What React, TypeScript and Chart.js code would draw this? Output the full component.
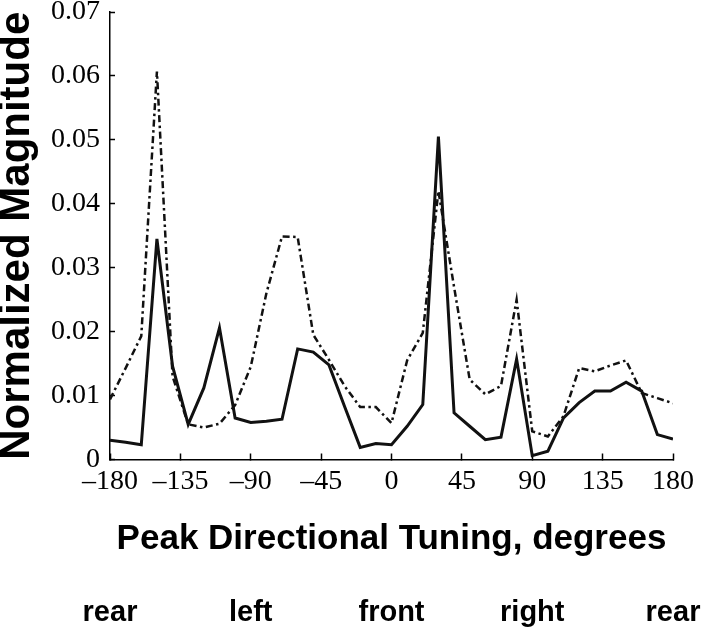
import { useEffect, useRef } from 'react';
import { Chart, registerables } from 'chart.js';

Chart.register(...registerables);

// Peak directional tuning (degrees), sampled every 10 degrees
const degrees = [
  -180, -170, -160, -150, -140, -130, -120, -110, -100, -90,
  -80, -70, -60, -50, -40, -30, -20, -10, 0, 10,
  20, 30, 40, 50, 60, 70, 80, 90, 100, 110,
  120, 130, 140, 150, 160, 170, 180,
];

// Solid curve
const solidValues = [
  0.0030, 0.0027, 0.0023, 0.0345, 0.0146, 0.0055, 0.0112, 0.0206, 0.0065, 0.0058,
  0.0060, 0.0063, 0.0173, 0.0168, 0.0148, 0.0083, 0.0019, 0.0025, 0.0023, 0.0052,
  0.0086, 0.0505, 0.0073, 0.0052, 0.0031, 0.0035, 0.0157, 0.0006, 0.0013, 0.0065,
  0.0089, 0.0107, 0.0107, 0.0121, 0.0107, 0.0039, 0.0032,
];

// Dash-dot curve
const dashDotValues = [
  0.0094, 0.0143, 0.0193, 0.0607, 0.0130, 0.0055, 0.0050, 0.0056, 0.0085, 0.0145,
  0.0260, 0.0349, 0.0348, 0.0195, 0.0156, 0.0115, 0.0082, 0.0082, 0.0057, 0.0155,
  0.0198, 0.0420, 0.0270, 0.0125, 0.0102, 0.0115, 0.0250, 0.0044, 0.0036, 0.0068,
  0.0143, 0.0138, 0.0147, 0.0155, 0.0104, 0.0096, 0.0088,
];

const xTickValues = [-180, -135, -90, -45, 0, 45, 90, 135, 180];
const xTickLabels = ['\u2013180', '\u2013135', '\u201390', '\u201345', '0', '45', '90', '135', '180'];
const yTickValues = [0, 0.01, 0.02, 0.03, 0.04, 0.05, 0.06, 0.07];
const yTickLabels = ['0', '0.01', '0.02', '0.03', '0.04', '0.05', '0.06', '0.07'];
const directionValues = [-180, -90, 0, 90, 180];
const directionLabels = ['rear', 'left', 'front', 'right', 'rear'];

const xTitle = 'Peak Directional Tuning, degrees';
const yTitle = 'Normalized Magnitude';

const SERIF = '"Liberation Serif", "Times New Roman", serif';
const SANS = '"Liberation Sans", Arial, sans-serif';

export default function App() {
  const canvasRef = useRef<HTMLCanvasElement | null>(null);

  useEffect(() => {
    document.body.style.margin = '0';
    const canvas = canvasRef.current;
    if (!canvas) return;

    const chart = new Chart(canvas, {
      type: 'line',
      data: {
        datasets: [
          {
            label: 'solid',
            data: degrees.map((d, i) => ({ x: d, y: solidValues[i] })),
            borderColor: '#111',
            borderWidth: 3,
            pointRadius: 0,
            tension: 0,
            fill: false,
            xAxisID: 'x',
          },
          {
            label: 'dash-dot',
            data: degrees.map((d, i) => ({ x: d, y: dashDotValues[i] })),
            borderColor: '#111',
            borderWidth: 2.5,
            borderDash: [7, 3.5, 2.5, 3.5],
            pointRadius: 0,
            tension: 0,
            fill: false,
            xAxisID: 'x',
          },
        ],
      },
      options: {
        animation: false,
        responsive: false,
        devicePixelRatio: 1,
        layout: { padding: { top: 12, right: 47, bottom: 0, left: 0 } },
        plugins: {
          legend: { display: false },
          tooltip: { enabled: false },
        },
        scales: {
          x: {
            type: 'linear',
            position: 'bottom',
            weight: 0,
            min: -180,
            max: 180,
            afterBuildTicks: (s: any) => {
              s.ticks = xTickValues.map((v) => ({ value: v }));
            },
            afterFit: (s: any) => {
              s.height = 110;
              s.paddingLeft = 0;
              s.paddingRight = 0;
            },
            ticks: {
              autoSkip: false,
              maxRotation: 0,
              padding: 11,
              color: '#000',
              font: { family: SERIF, size: 28 },
              callback: (_v: any, i: number) => xTickLabels[i],
            },
            grid: {
              drawOnChartArea: false,
              drawTicks: true,
              tickLength: -6,
              tickWidth: 1.5,
              color: '#000',
            },
            border: { display: true, color: '#000', width: 1.5 },
            title: {
              display: true,
              text: xTitle,
              color: '#000',
              font: { family: SANS, size: 35, weight: 'bold' },
              padding: { top: 0, bottom: 9.5 },
            },
          },
          x2: {
            type: 'linear',
            position: 'bottom',
            weight: 1,
            min: -180,
            max: 180,
            afterBuildTicks: (s: any) => {
              s.ticks = directionValues.map((v) => ({ value: v }));
            },
            afterFit: (s: any) => {
              s.height = 60.5;
              s.paddingLeft = 0;
              s.paddingRight = 0;
            },
            ticks: {
              autoSkip: false,
              maxRotation: 0,
              padding: 25.7,
              color: '#000',
              font: { family: SANS, size: 29, weight: 'bold' },
              callback: (_v: any, i: number) => directionLabels[i],
            },
            grid: { display: false, drawTicks: false, drawOnChartArea: false },
            border: { display: false },
          },
          y: {
            type: 'linear',
            position: 'left',
            min: 0,
            max: 0.07,
            afterBuildTicks: (s: any) => {
              s.ticks = yTickValues.map((v) => ({ value: v }));
            },
            afterFit: (s: any) => {
              s.width = 110;
              s.paddingTop = 0;
              s.paddingBottom = 0;
            },
            ticks: {
              autoSkip: false,
              padding: 15,
              color: '#000',
              font: { family: SERIF, size: 28 },
              callback: (_v: any, i: number) => yTickLabels[i],
            },
            grid: {
              drawOnChartArea: false,
              drawTicks: true,
              tickLength: -5,
              tickWidth: 1.5,
              color: '#000',
            },
            border: { display: true, color: '#000', width: 1.5 },
            title: {
              display: true,
              text: yTitle,
              color: '#000',
              font: { family: SANS, size: 42, weight: 'bold', lineHeight: 0.8 },
              padding: { top: 0.7, bottom: 0 },
            },
          },
        },
      },
    });

    return () => chart.destroy();
  }, []);

  return (
    <div style={{ width: 720, height: 630, background: '#fff' }}>
      <canvas ref={canvasRef} width={720} height={630} style={{ display: 'block' }} />
    </div>
  );
}
